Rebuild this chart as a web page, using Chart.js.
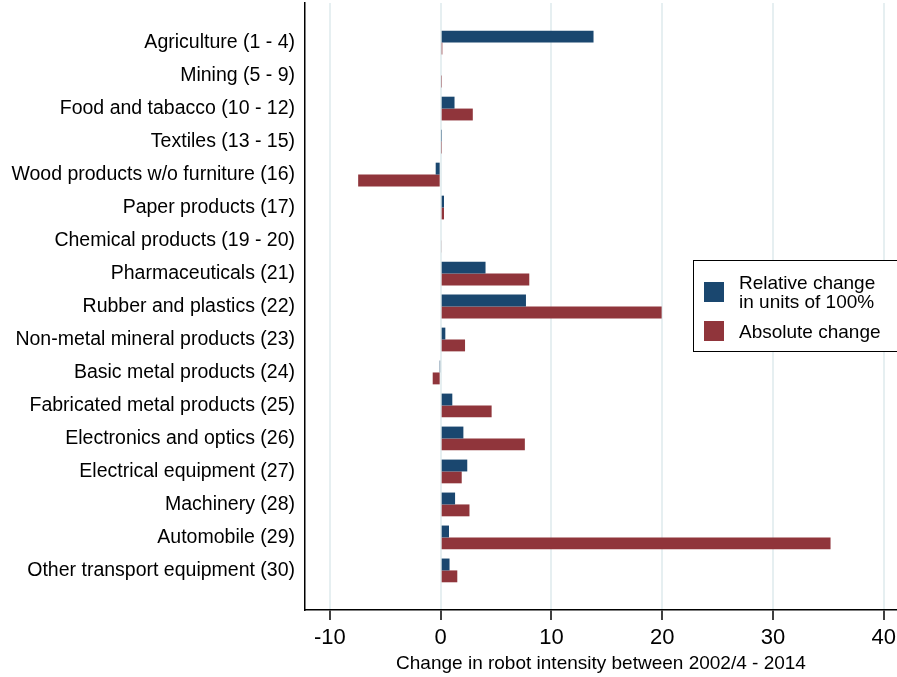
<!DOCTYPE html>
<html>
<head>
<meta charset="utf-8">
<script src="https://cdn.jsdelivr.net/npm/chart.js@4.4.1/dist/chart.umd.min.js"></script>
<style>
  html, body { margin: 0; padding: 0; background: #fff; }
  #wrap { width: 897px; height: 677px; }
</style>
</head>
<body>
<div id="wrap"><canvas id="c" width="897" height="677"></canvas></div>
<script>
const categories = [
  'Agriculture (1 - 4)', 'Mining (5 - 9)', 'Food and tabacco (10 - 12)', 'Textiles (13 - 15)',
  'Wood products w/o furniture (16)', 'Paper products (17)', 'Chemical products (19 - 20)',
  'Pharmaceuticals (21)', 'Rubber and plastics (22)', 'Non-metal mineral products (23)',
  'Basic metal products (24)', 'Fabricated metal products (25)', 'Electronics and optics (26)',
  'Electrical equipment (27)', 'Machinery (28)', 'Automobile (29)', 'Other transport equipment (30)'
];
const relativeChange = [13.8, 0, 1.25, 0.05, -0.45, 0.3, 0, 4.05, 7.7, 0.42, -0.05, 1.05, 2.05, 2.4, 1.3, 0.75, 0.8];
const absoluteChange = [0.15, 0.05, 2.9, 0.05, -7.45, 0.3, 0.1, 8.0, 19.95, 2.2, -0.72, 4.6, 7.6, 1.9, 2.6, 35.2, 1.5];
const xTicks = [-10, 0, 10, 20, 30, 40];
const seriesLabels = [['Relative change', 'in units of 100%'], ['Absolute change']];

const colors = {
  navy: '#1a476f',
  maroon: '#90353b',
  grid: '#e6eff1',
  text: '#000000'
};
const font = "'Liberation Sans', Arial, sans-serif";

// legend box drawn by hand, Stata style, two-line label for the first series
const boxLegend = {
  id: 'boxLegend',
  afterDraw(chart) {
    const ctx = chart.ctx;
    const x = 693.5, y = 260.5, w = 210, h = 91;
    ctx.save();
    ctx.fillStyle = '#fff';
    ctx.fillRect(x, y, w, h);
    ctx.strokeStyle = '#000';
    ctx.lineWidth = 1;
    ctx.strokeRect(x, y, w, h);
    ctx.font = '19px ' + font;
    ctx.textBaseline = 'middle';
    const rows = [{ sq: 282, lines: [284, 303] }, { sq: 321, lines: [333] }];
    chart.data.datasets.forEach((ds, i) => {
      ctx.fillStyle = ds.backgroundColor;
      ctx.fillRect(704, rows[i].sq, 20, 20);
      ctx.fillStyle = colors.text;
      seriesLabels[i].forEach((t, j) => ctx.fillText(t, 739, rows[i].lines[j]));
    });
    ctx.restore();
  }
};

new Chart(document.getElementById('c'), {
  type: 'bar',
  data: {
    datasets: [
      {
        label: seriesLabels[0].join(' '),
        data: relativeChange.map((v, i) => ({ x: v, y: i })),
        backgroundColor: colors.navy,
        borderWidth: 0
      },
      {
        label: seriesLabels[1].join(' '),
        data: absoluteChange.map((v, i) => ({ x: v, y: i })),
        backgroundColor: colors.maroon,
        borderWidth: 0
      }
    ]
  },
  options: {
    indexAxis: 'y',
    responsive: false,
    animation: false,
    categoryPercentage: 0.72,
    barPercentage: 1.0,
    layout: { padding: { top: 3, right: 0, left: 0, bottom: 2 } },
    plugins: {
      legend: { display: false },
      tooltip: { enabled: false }
    },
    scales: {
      x: {
        type: 'linear',
        min: -12.25,
        max: 41.2,
        afterBuildTicks: (scale) => { scale.ticks = xTicks.map(v => ({ value: v })); },
        afterFit: (scale) => { scale.paddingLeft = 0; scale.paddingRight = 0; scale.height = 65; },
        ticks: {
          color: colors.text,
          font: { family: font, size: 22, lineHeight: 1.0 },
          padding: 7,
          includeBounds: false
        },
        grid: {
          color: colors.grid,
          lineWidth: 2,
          tickColor: '#000',
          tickLength: 10,
          tickWidth: 1.5
        },
        border: { color: '#000', width: 1.5 },
        title: {
          display: true,
          text: 'Change in robot intensity between 2002/4 - 2014',
          color: colors.text,
          font: { family: font, size: 19 },
          padding: { top: 2.6, bottom: 0 }
        }
      },
      y: {
        type: 'linear',
        reverse: true,
        offset: false,
        min: -1.2,
        max: 17.2,
        afterBuildTicks: (scale) => { scale.ticks = categories.map((c, i) => ({ value: i })); },
        afterFit: (scale) => { scale.width = 305; scale.paddingTop = 0; scale.paddingBottom = 0; },
        ticks: {
          color: colors.text,
          font: { family: font, size: 19.5 },
          padding: 10,
          autoSkip: false,
          callback: (v) => categories[v] || ''
        },
        grid: { display: false, drawTicks: false, offset: false },
        border: { color: '#000', width: 1.5 }
      }
    }
  },
  plugins: [boxLegend]
});
</script>
</body>
</html>
